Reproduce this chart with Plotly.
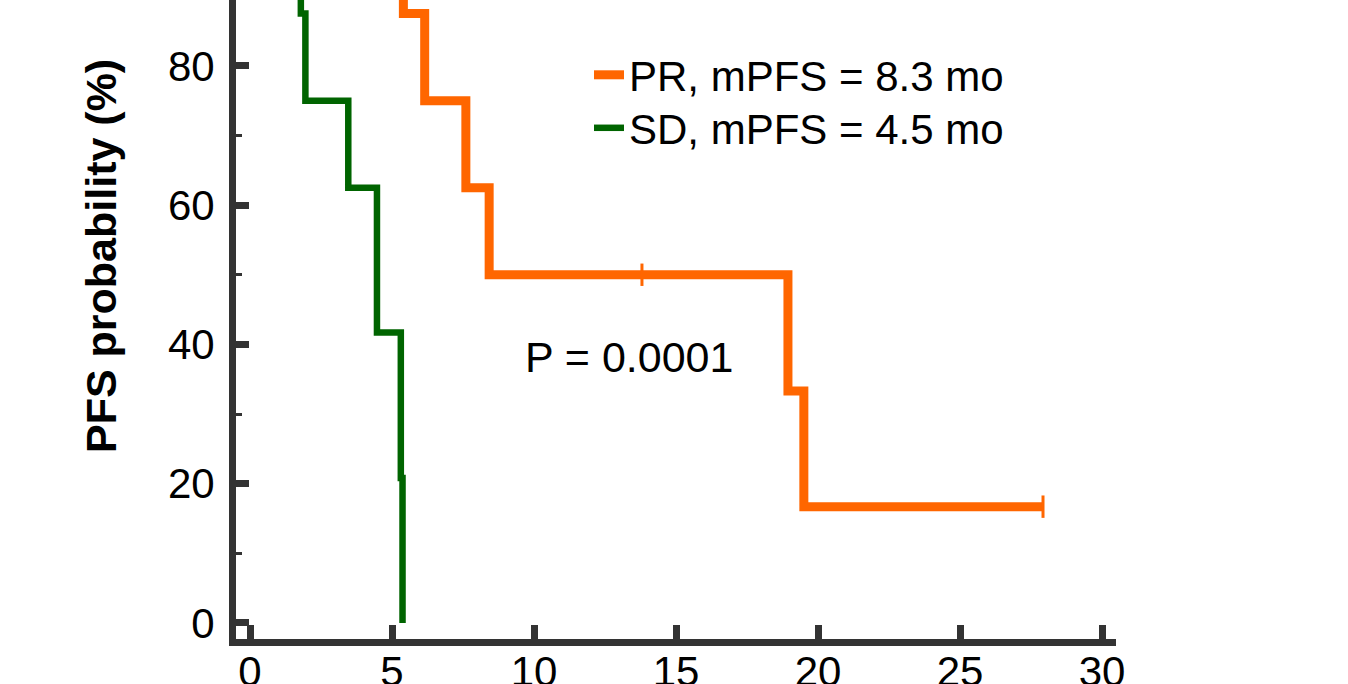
import plotly.graph_objects as go

# Kaplan-Meier step data (months, PFS probability %)
pr_time = [0, 5.4, 6.15, 7.6, 8.42, 18.94, 19.5, 27.92]
pr_surv = [100, 87.5, 75, 62.5, 50, 33.3, 16.7, 16.7]
pr_cens_time = [13.8, 27.92]
pr_cens_surv = [50, 16.7]

sd_time = [0, 1.79, 1.95, 3.46, 4.47, 5.31, 5.37]
sd_surv = [100, 87.5, 75, 62.5, 41.7, 20.8, 0]

pr_label = "PR, mPFS = 8.3 mo"
sd_label = "SD, mPFS = 4.5 mo"
p_text = "P = 0.0001"
y_title = "PFS probability (%)"
x_ticks = [0, 5, 10, 15, 20, 25, 30]
y_ticks = [0, 20, 40, 60, 80]

ORANGE = "#FF6600"
GREEN = "#006400"
AXIS = "#333333"
FONT = "Liberation Sans, Arial, sans-serif"
FS = 42

fig = go.Figure()
fig.add_trace(go.Scatter(x=pr_time, y=pr_surv, mode="lines", line=dict(shape="hv", color=ORANGE, width=9),
                         name=pr_label, legend="legend"))
fig.add_trace(go.Scatter(x=sd_time, y=sd_surv, mode="lines", line=dict(shape="hv", color=GREEN, width=6.5),
                         name=sd_label, legend="legend2"))
fig.add_trace(go.Scatter(x=pr_cens_time, y=pr_cens_surv, mode="markers", showlegend=False,
                         marker=dict(symbol="line-ns", size=16, line=dict(color=ORANGE, width=3))))

fig.add_annotation(x=13.35, y=38.2, text=p_text, showarrow=False, xref="x", yref="y",
                   font=dict(family=FONT, size=43, color="#000"))
fig.add_annotation(x=(101 - 236) / 880, y=1 - 256 / 639, xref="paper", yref="paper", text="<b>" + y_title + "</b>",
                   xanchor="center", yanchor="middle",
                   textangle=-90, showarrow=False, font=dict(family=FONT, size=43, color="#000"))

leg_common = dict(xanchor="left", yanchor="middle", bgcolor="rgba(0,0,0,0)",
                  font=dict(family=FONT, size=FS, color="#000"), borderwidth=0)

fig.update_layout(
    width=1348, height=684,
    margin=dict(l=236, r=232, t=0, b=45, pad=0),
    paper_bgcolor="white", plot_bgcolor="white",
    font=dict(family=FONT, size=FS, color="#000"),
    showlegend=True,
    legend=dict(x=(589 - 236) / 880, y=1 - 75 / 639, **leg_common),
    legend2=dict(x=(589 - 236) / 880, y=1 - 128 / 639, **leg_common),
    xaxis=dict(range=[-0.493, 30.49], tickvals=x_ticks, showgrid=False, zeroline=False, automargin=False,
               showline=True, linecolor=AXIS, linewidth=7, ticks="inside", ticklen=14, tickwidth=7,
               tickcolor=AXIS, tickfont=dict(family=FONT, size=FS, color="#000"), ticklabelstandoff=-10),
    yaxis=dict(range=[-2.3, 89.45], tickvals=y_ticks, showgrid=False, zeroline=False, automargin=False,
               showline=True, linecolor=AXIS, linewidth=7, ticks="inside", ticklen=13, tickwidth=7,
               tickcolor=AXIS, tickfont=dict(family=FONT, size=FS, color="#000"), ticklabelstandoff=6,
               minor=dict(tickvals=[10, 30, 50, 70], ticks="inside", ticklen=6, tickwidth=3, tickcolor=AXIS)),
)

fig.write_html("out.html", config={"displayModeBar": False},
               post_script="document.body.style.margin='0';document.body.style.overflow='hidden';")
